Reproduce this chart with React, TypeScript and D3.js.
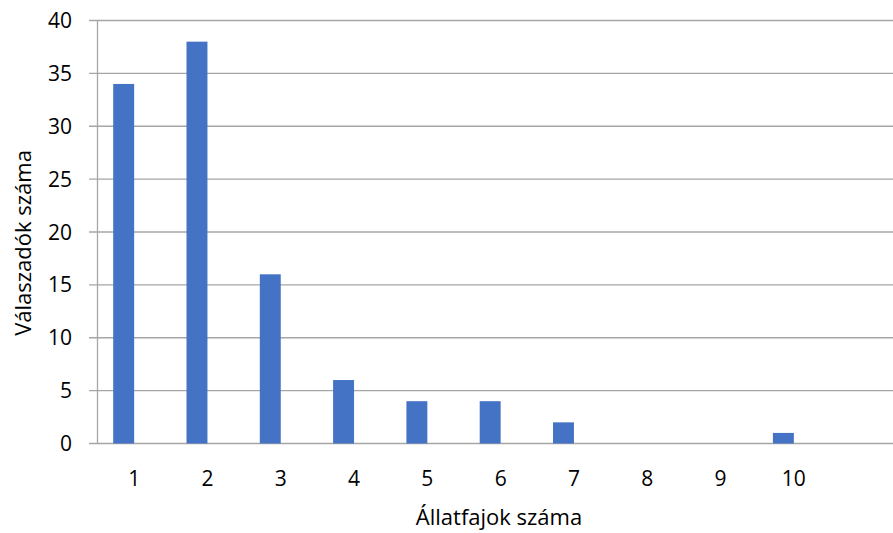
import React from "react";
import * as d3 from "d3";

const categories = ["1", "2", "3", "4", "5", "6", "7", "8", "9", "10", ""];
const values: (number | null)[] = [34, 38, 16, 6, 4, 4, 2, 0, 0, 1, null];
const emptySeries: (number | null)[] = categories.map(() => null);
const yTicks = [0, 5, 10, 15, 20, 25, 30, 35, 40];
const xTitle = "Állatfajok száma";
const yTitle = "Válaszadók száma";

const W = 893;
const H = 533;
const FONT = "'Open Sans', 'Liberation Sans', sans-serif";

export default function App() {
  const left = 97.5;
  const slot = 73.3;
  const right = left + slot * categories.length;
  const top = 20.5;
  const bottom = 443.5;

  const keys = categories.map((c, i) => c + "|" + i);
  const x = d3.scaleBand<string>().domain(keys).range([left, right]).paddingInner(0).paddingOuter(0);
  const y = d3.scaleLinear().domain([0, 40]).range([bottom, top]);

  // clustered bars with 150% gap: slot = 3.5 bar widths (two series, second empty)
  const barW = x.bandwidth() / 3.5;
  const clusterStart = (k: string) => x(k)! + (x.bandwidth() - 2 * barW) / 2;

  return (
    <svg width={W} height={H} style={{ display: "block", position: "absolute", left: 0, top: 0, background: "#fff" }}>
      {yTicks.map((t) => (
        <g key={t}>
          <line x1={89} x2={W} y1={y(t)} y2={y(t)} stroke="#a6a6a6" strokeWidth={1.3} />
          <text x={72} y={y(t)} dy="0.36em" textAnchor="end" fontFamily={FONT} fontSize={21} fill="#000">
            {t}
          </text>
        </g>
      ))}
      <line x1={left} x2={left} y1={top} y2={bottom} stroke="#a6a6a6" strokeWidth={1.3} />
      {keys.map((k, i) => {
        const v = values[i];
        const v2 = emptySeries[i];
        const x0 = clusterStart(k);
        return (
          <g key={k}>
            {v != null && v > 0 && (
              <rect x={x0} y={y(v)} width={barW} height={y(0) - y(v)} fill="#4472c4" />
            )}
            {v2 != null && v2 > 0 && (
              <rect x={x0 + barW} y={y(v2)} width={barW} height={y(0) - y(v2)} fill="#ed7d31" />
            )}
            <text x={x(k)! + x.bandwidth() / 2} y={478} dy="0.36em" textAnchor="middle" fontFamily={FONT} fontSize={21} fill="#000">
              {categories[i]}
            </text>
          </g>
        );
      })}
      <text x={499} y={525} textAnchor="middle" fontFamily={FONT} fontSize={22} fill="#000">
        {xTitle}
      </text>
      <text transform={`translate(23, 243) rotate(-90)`} dy="0.36em" textAnchor="middle" fontFamily={FONT} fontSize={22} fill="#000">
        {yTitle}
      </text>
    </svg>
  );
}
